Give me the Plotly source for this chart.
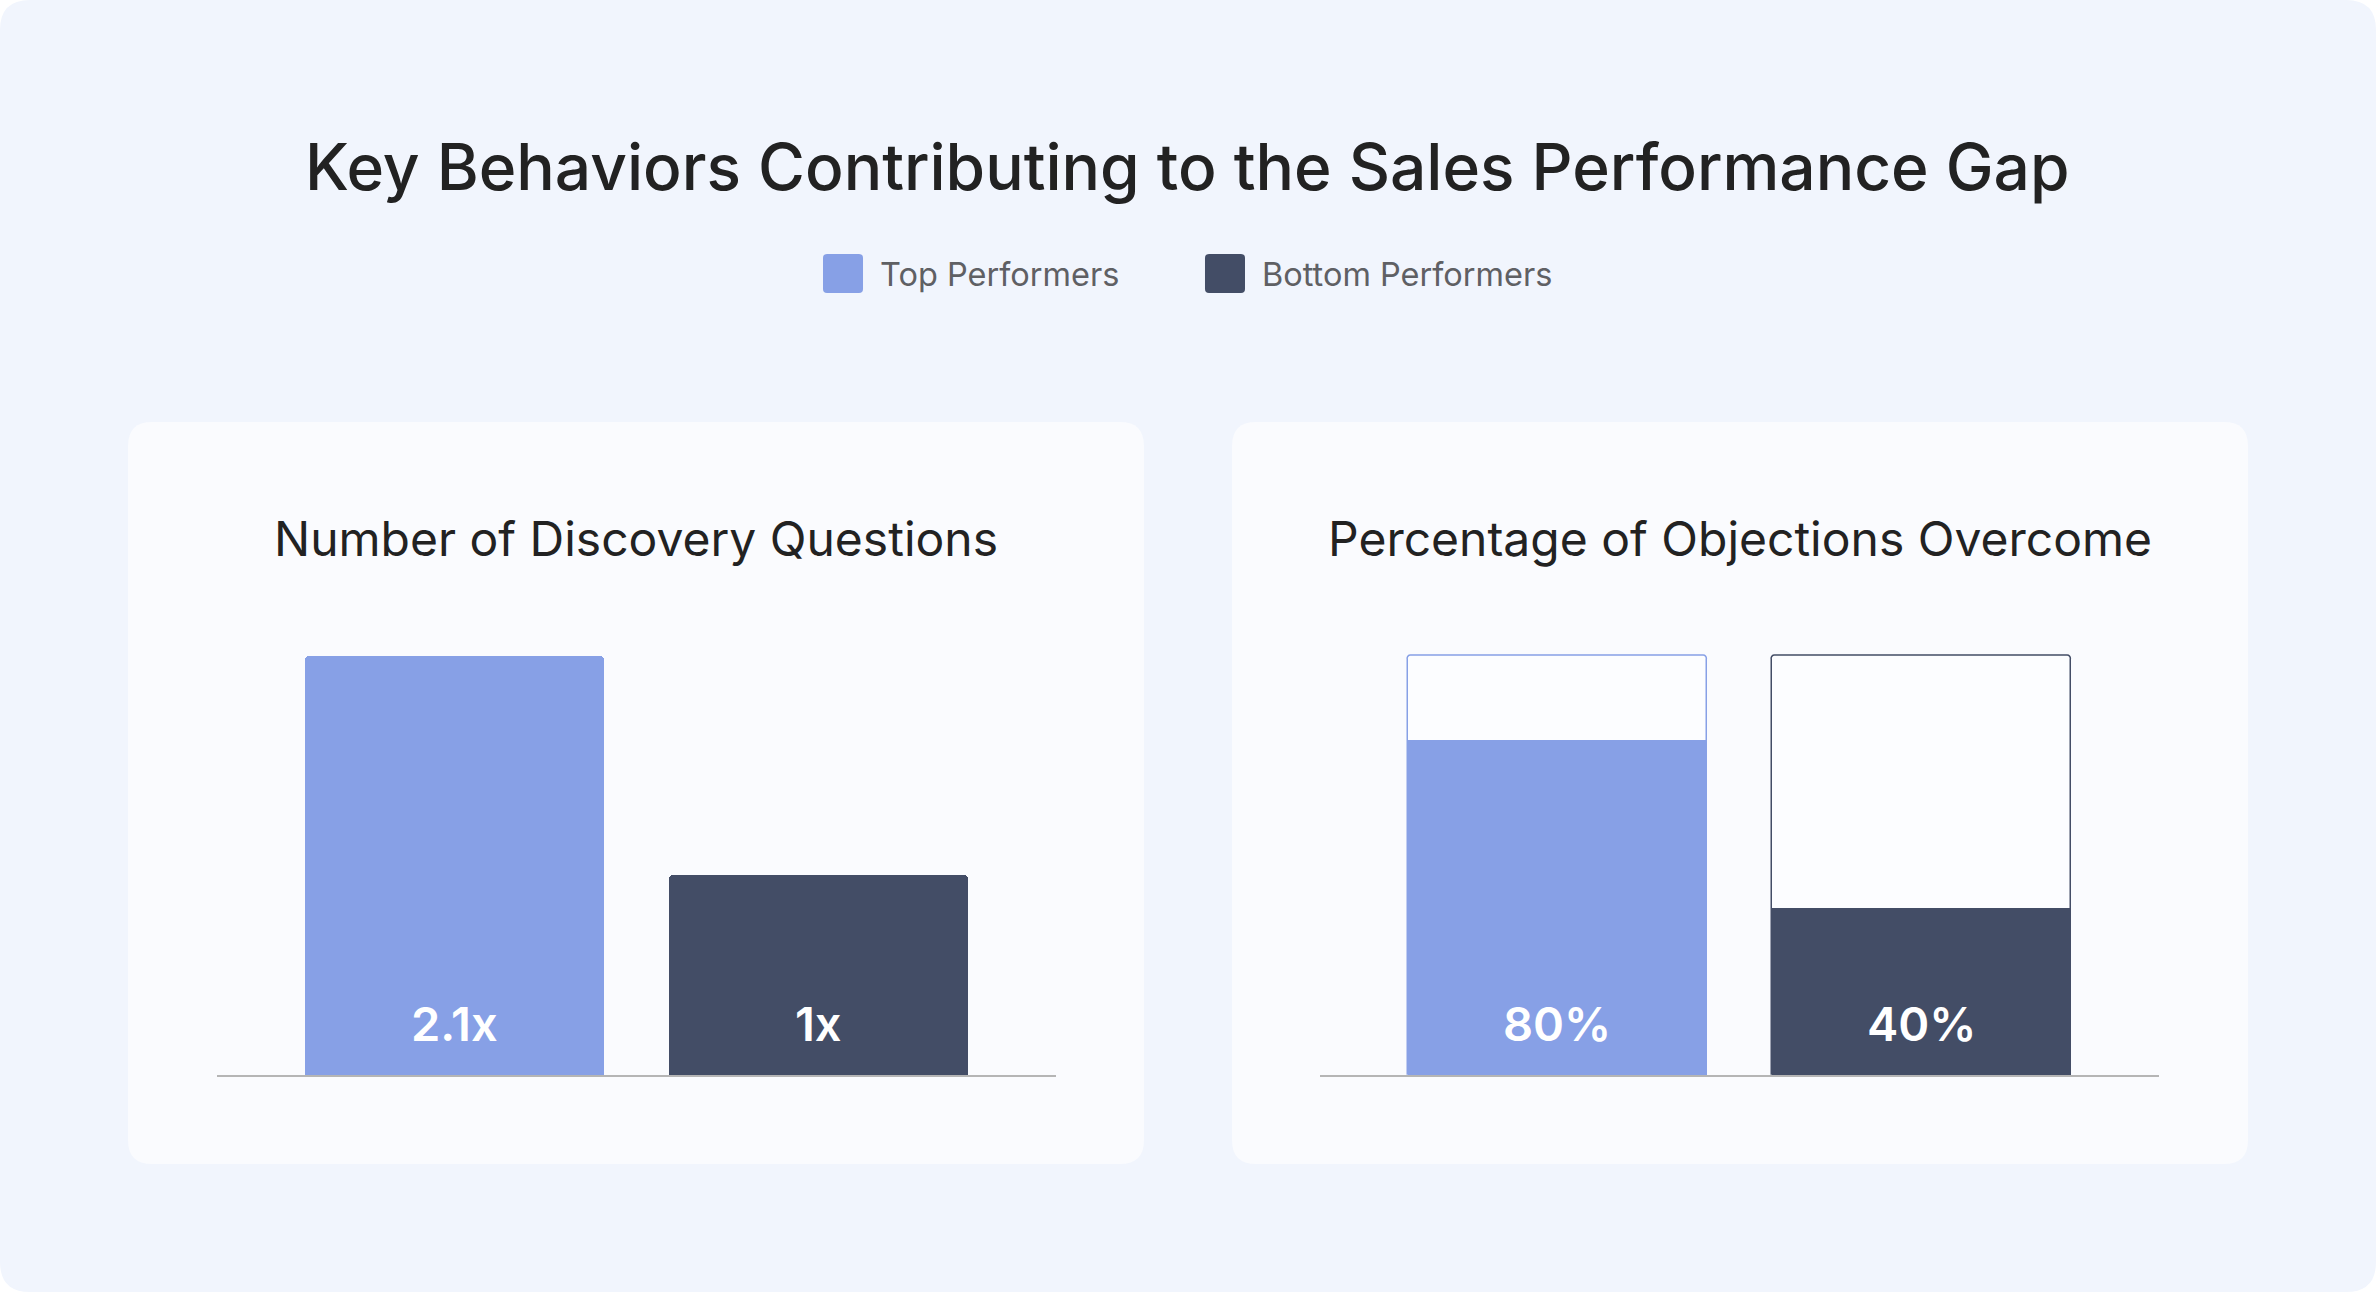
import plotly.graph_objects as go

# Data
categories = ["Top Performers", "Bottom Performers"]
questions_ratio = [2.1, 1.0]
questions_labels = ["2.1x", "1x"]
objections_pct = [80, 40]
objections_labels = ["80%", "40%"]
full_scale = [100, 100]

bar_colors = ["#87A0E6", "#434D66"]

W, H = 2376, 1292
FONT = "Inter"


def px_x(x):
    return x / W


def px_y(y):
    return 1 - y / H


def rounded_rect(x0, y0, x1, y1, r):
    # pixel coords (top-left origin) -> paper path
    pts = [
        ("M", x0 + r, y0), ("L", x1 - r, y0), ("Q", x1, y0, x1, y0 + r),
        ("L", x1, y1 - r), ("Q", x1, y1, x1 - r, y1), ("L", x0 + r, y1),
        ("Q", x0, y1, x0, y1 - r), ("L", x0, y0 + r), ("Q", x0, y0, x0 + r, y0),
    ]
    out = ""
    for p in pts:
        cmd, vals = p[0], p[1:]
        coords = []
        for i in range(0, len(vals), 2):
            coords.append(f"{px_x(vals[i]):.5f},{px_y(vals[i + 1]):.5f}")
        out += cmd + " ".join(coords) + " "
    return out + "Z"


fig = go.Figure()

# left panel: number of discovery questions
fig.add_trace(go.Bar(
    x=categories, y=questions_ratio, width=0.82,
    marker=dict(color=bar_colors, line=dict(width=0), cornerradius=4),
    xaxis="x", yaxis="y", showlegend=False, hoverinfo="skip",
))

# right panel: track (100%) + filled value
fig.add_trace(go.Bar(
    x=categories, y=full_scale, width=0.82,
    marker=dict(color="#FCFDFF", line=dict(color=bar_colors, width=1.5), cornerradius=4),
    xaxis="x2", yaxis="y2", showlegend=False, hoverinfo="skip",
))
fig.add_trace(go.Bar(
    x=categories, y=objections_pct, width=0.82,
    marker=dict(color=bar_colors, line=dict(width=0)),
    xaxis="x2", yaxis="y2", showlegend=False, hoverinfo="skip",
))

shapes = [
    dict(type="path", xref="paper", yref="paper", path=rounded_rect(0, 0, W, H, 30),
         fillcolor="#F1F5FD", line=dict(width=0), layer="below"),
    dict(type="path", xref="paper", yref="paper", path=rounded_rect(128, 422, 1144, 1164, 24),
         fillcolor="#FAFBFE", line=dict(width=0), layer="below"),
    dict(type="path", xref="paper", yref="paper", path=rounded_rect(1232, 422, 2248, 1164, 24),
         fillcolor="#FAFBFE", line=dict(width=0), layer="below"),
]

# legend swatches
legend_x = [823, 1205]
legend_text_x = [878, 1260]
for i, name in enumerate(categories):
    shapes.append(dict(type="path", xref="paper", yref="paper",
                       path=rounded_rect(legend_x[i], 254, legend_x[i] + 40, 293, 4),
                       fillcolor=bar_colors[i], line=dict(width=0), layer="below"))

annotations = [
    dict(text="Key Behaviors Contributing to the Sales Performance Gap",
         x=px_x(1187), y=px_y(167), xref="paper", yref="paper",
         xanchor="center", yanchor="middle", showarrow=False,
         font=dict(family=FONT, size=64, color="#222222", weight=500)),
    dict(text="Number of Discovery Questions",
         x=px_x(636), y=px_y(539), xref="paper", yref="paper",
         xanchor="center", yanchor="middle", showarrow=False,
         font=dict(family=FONT, size=48, color="#222222")),
    dict(text="Percentage of Objections Overcome",
         x=px_x(1740), y=px_y(539), xref="paper", yref="paper",
         xanchor="center", yanchor="middle", showarrow=False,
         font=dict(family=FONT, size=48, color="#222222")),
]
for i, name in enumerate(categories):
    annotations.append(dict(text=name, x=px_x(legend_text_x[i]), y=px_y(274),
                            xref="paper", yref="paper", xanchor="left", yanchor="middle",
                            showarrow=False, font=dict(family=FONT, size=32.5, color="#5F6064")))

# value labels inside bars
for i, cat in enumerate(categories):
    annotations.append(dict(text=questions_labels[i], x=cat, y=0, xref="x", yref="y",
                            xanchor="center", yanchor="middle", yshift=52, showarrow=False,
                            font=dict(family=FONT, size=47, color="white", weight=600)))
    annotations.append(dict(text=objections_labels[i], x=cat, y=0, xref="x2", yref="y2",
                            xanchor="center", yanchor="middle", yshift=52, showarrow=False,
                            font=dict(family=FONT, size=47, color="white", weight=600)))

axis_x = dict(type="category", range=[-0.652, 1.652], showticklabels=False, ticks="",
              showgrid=False, zeroline=False, showline=True, linecolor="#B5B5B5", linewidth=2,
              fixedrange=True)
axis_y = dict(showticklabels=False, ticks="", showgrid=False, zeroline=False,
              showline=False, fixedrange=True)

# small headroom on the right so the 100% outline is not clipped
y2_top = 101
y2_top_px = 1075 - 419 * y2_top / 100

fig.update_layout(
    width=W, height=H,
    margin=dict(l=0, r=0, t=0, b=0),
    paper_bgcolor="#FFFFFF",
    plot_bgcolor="rgba(0,0,0,0)",
    barmode="overlay",
    bargap=0,
    font=dict(family=FONT),
    showlegend=False,
    xaxis=dict(axis_x, domain=[px_x(217), px_x(1056)], anchor="y"),
    yaxis=dict(axis_y, domain=[px_y(1075), px_y(656)], range=[0, 2.1], anchor="x"),
    xaxis2=dict(axis_x, domain=[px_x(1320), px_x(2159)], anchor="y2"),
    yaxis2=dict(axis_y, domain=[px_y(1075), px_y(y2_top_px)], range=[0, y2_top], anchor="x2"),
    shapes=shapes,
    annotations=annotations,
)

fig.write_html("out.html", config={"displayModeBar": False},
               post_script="document.body.style.margin='0';")
